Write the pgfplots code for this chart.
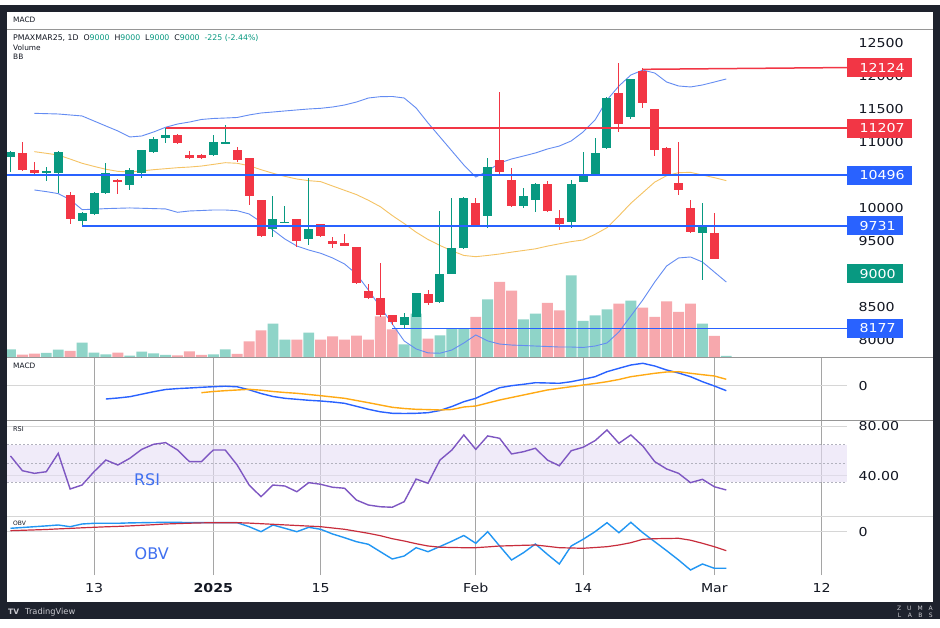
\documentclass[border=0pt]{standalone}
\usepackage{fontspec}
\setmainfont{DejaVu Sans}
\newfontfamily\scalefont{DejaVu Sans}[FakeStretch=1.15]
\usepackage{pgfplots}
\usepackage{pgfplotstable}
\pgfplotsset{compat=1.18}
\usepgfplotslibrary{fillbetween}

\definecolor{cgreen}{RGB}{8,153,129}
\definecolor{cred}{RGB}{242,54,69}
\definecolor{cblue}{RGB}{41,98,255}
\definecolor{vgreen}{RGB}{143,212,200}
\definecolor{vred}{RGB}{247,168,173}
\definecolor{bbline}{RGB}{100,140,242}
\definecolor{bbmid}{RGB}{245,195,100}
\definecolor{bbfill}{RGB}{226,237,252}
\definecolor{macdorange}{RGB}{255,170,20}
\definecolor{rsipurple}{RGB}{126,87,194}
\definecolor{rsiband}{RGB}{230,223,245}
\definecolor{obvblue}{RGB}{33,150,243}
\definecolor{obvred}{RGB}{200,45,60}
\definecolor{gridh}{RGB}{214,214,214}
\definecolor{gridv}{RGB}{165,165,165}
\definecolor{sepc}{RGB}{150,150,150}
\definecolor{framec}{RGB}{30,34,45}
\definecolor{txt}{RGB}{19,23,34}
\definecolor{labelblue}{RGB}{64,112,240}
\definecolor{dashc}{RGB}{178,178,190}
\definecolor{logoc}{RGB}{200,200,206}

% up (green) candles: index open high low close volume(px)
\pgfplotstableread{
i o h l c v
-7 10774 10860 10548 10851 7.7
-4 10524 10623 10407 10554 4
-3 10524 10860 10221 10851 7.4
-1 9801 9934 9740 9917 14.4
0 9902 10236 9888 10230 4.4
1 10221 10682 10211 10532 2.7
3 10347 10598 10271 10573 1.4
4 10524 10880 10447 10876 5.4
5 10846 11077 10827 11047 3.7
6 11053 11207 10977 11103 2
10 10800 11103 10789 10996 2.7
11 10980 11254 10975 10996 7.7
15 9676 10179 9564 9827 33.4
16 9773 10028 9767 9788 17.4
18 9525 10446 9438 9676 24.4
26 8227 8413 8177 8353 12.7
27 8353 8716 8344 8707 43.4
29 8570 9957 8565 8994 21.7
30 8999 10154 8993 9398 28.4
31 9388 10170 9381 10154 28.4
33 9880 10750 9690 10613 57.7
36 10029 10306 9993 10179 37.7
37 10119 10380 9932 10356 43.4
40 9782 10422 9690 10356 81.7
41 10397 10850 10387 10508 36
42 10513 11053 10507 10826 41.7
43 10902 11675 10890 11668 47.7
45 11371 11957 11341 11946 56.4
51 9615 10069 8909 9731 33.4
53 9000 9000 9000 9000 1
}\upc

% down (red) candles
\pgfplotstableread{
i o h l c v
-6 10827 10992 10563 10573 2.4
-5 10573 10699 10497 10524 3.4
-2 10195 10245 9756 9827 6
2 10422 10432 10206 10397 4.4
7 11103 11111 10970 10977 1.7
8 10800 10861 10739 10750 5.7
9 10800 10809 10739 10750 2
12 10876 10926 10699 10725 3
13 10750 10759 10043 10179 15.7
14 10119 10125 9563 9576 26.7
17 9827 9833 9414 9504 17.4
19 9756 9763 9563 9576 17.4
20 9499 9564 9388 9454 20.7
21 9473 9600 9421 9428 17.4
22 9403 9411 8848 8858 21.4
23 8747 8849 8626 8632 17.4
24 8632 9170 8353 8379 40.7
25 8379 8384 8227 8278 27.5
28 8696 8757 8535 8555 18.4
32 10069 10144 9713 9726 40
34 10725 11749 10508 10548 75
35 10422 10598 10014 10029 66.4
38 10356 10410 9933 9952 54
39 9842 9968 9665 9752 46.7
44 11743 12188 11154 11269 53.4
46 12071 12124 11507 11582 49.4
47 11496 11503 10785 10876 40
48 10911 10920 10483 10496 55.7
49 10382 10992 10195 10271 45
50 10003 10119 9622 9630 53.4
52 9625 9926 9220 9225 21
}\dnc

% indicators: BB upper/mid/lower, MACD, signal, RSI, OBV, OBV MA
\pgfplotstableread{
i up mid lo macd sig rsi obv obvma
-7 nan nan nan nan nan 55.9 3.4 1.0
-6 nan nan nan nan nan 44.0 4.2 1.4
-5 11431 10851 10271 nan nan 41.9 5.0 1.8
-4 11426 10826 10246 nan nan 43.2 5.8 2.2
-3 11421 10800 10216 nan nan 58.0 6.7 2.8
-2 11406 10739 10125 nan nan 29.3 5.0 3.3
-1 11391 10675 9974 nan nan 32.5 7.7 3.9
0 11315 10628 9979 nan nan 43.2 8.4 4.4
1 11239 10584 9989 -13.0 nan 52.6 8.4 4.9
2 11164 10553 9994 -12.0 nan 48.6 8.4 5.3
3 11073 10543 9999 -10.7 nan 54.0 8.8 5.8
4 11088 10560 9994 -8.2 nan 61.2 9.0 6.4
5 11149 10578 9989 -5.7 nan 65.3 9.2 7.0
6 11220 10593 9984 -3.5 nan 66.6 9.4 7.7
7 11269 10608 9933 -2.6 nan 60.7 9.4 8.1
8 11299 10618 9953 -2.0 nan 51.3 9.0 8.5
9 11338 10633 9960 -1.3 -6.7 51.3 9.0 8.8
10 11353 10658 9968 -0.7 -5.5 60.7 9.0 9.0
11 11360 10684 9968 -0.2 -4.7 60.7 9.0 9.0
12 11368 10675 9957 -0.8 -4.0 48.6 9.0 9.0
13 11406 10638 9908 -3.8 -3.3 32.5 5.0 8.6
14 11436 10578 9786 -7.5 -4.2 23.1 0.0 8.0
15 11451 10524 9665 -10.5 -5.5 32.5 6.7 7.4
16 11467 10477 9529 -12.3 -6.5 31.7 3.4 6.8
17 11482 10437 9423 -13.3 -7.3 27.1 0.0 6.2
18 11497 10412 9362 -14.3 -8.5 34.4 4.4 5.6
19 11507 10397 9313 -15.0 -9.7 33.1 2.4 5.0
20 11527 10331 9242 -16.0 -11.0 30.7 -2.3 3.7
21 11557 10266 9151 -17.3 -12.3 29.9 -6.0 2.4
22 11602 10201 8999 -20.3 -14.5 20.4 -10.0 0.4
23 11663 10115 8757 -23.3 -16.7 16.4 -12.6 -1.6
24 11683 10018 8500 -25.8 -19.0 15.0 -20.0 -4.0
25 11686 9884 8243 -27.3 -21.3 14.6 -27.3 -7.0
26 11663 9763 7986 -27.5 -22.5 19.1 -24.3 -9.3
27 11512 9632 7865 -27.3 -23.3 37.3 -16.0 -12.0
28 11285 9521 7805 -26.7 -23.6 33.9 -20.0 -14.3
29 11073 9431 7800 -24.5 -24.0 52.6 -14.8 -15.5
30 10861 9350 7849 -20.5 -23.5 60.7 -9.5 -15.8
31 10649 9280 7955 -15.7 -21.0 72.8 -3.8 -16.0
32 10467 9261 8076 -12.3 -20.0 61.2 -11.6 -16.0
33 10558 9280 7986 -6.7 -17.0 72.0 0.0 -15.2
34 10680 9302 7939 -1.7 -14.0 70.1 -14.3 -14.3
35 10740 9330 7924 0.3 -11.5 57.5 -28.3 -14.0
36 10785 9355 7917 1.7 -9.0 59.3 -21.0 -13.6
37 10831 9380 7909 3.3 -6.5 62.1 -12.3 -13.3
38 10891 9421 7902 3.0 -4.0 52.6 -22.6 -14.6
39 10936 9456 7894 2.7 -2.3 48.0 -32.3 -16.0
40 11013 9489 7894 4.3 -0.7 60.1 -14.3 -16.3
41 11149 9514 7887 6.7 1.0 62.9 -7.6 -16.6
42 11330 9600 7909 9.3 2.5 68.2 0.0 -15.8
43 11633 9700 7955 14.3 4.3 76.8 9.0 -15.0
44 11845 9880 8122 17.7 6.5 66.1 -1.0 -13.3
45 12011 10070 8364 21.0 9.3 72.8 9.4 -11.0
46 12086 10230 8606 22.7 11.0 63.9 -1.0 -7.6
47 12041 10390 8878 20.0 12.7 51.3 -10.0 -7.0
48 11905 10487 9121 16.0 14.0 45.4 -19.0 -6.8
49 11845 10533 9242 13.0 14.3 41.9 -28.3 -6.6
50 11830 10538 9257 9.3 12.7 34.4 -38.3 -8.5
51 11860 10497 9181 4.3 11.3 37.1 -32.3 -11.6
52 11905 10457 9029 0.0 10.0 31.1 -36.6 -15.0
53 11951 10412 8878 -4.7 6.7 28.5 -36.6 -19.0
}\indic

\newcommand\scl{\scalefont\fontsize{12.3pt}{14pt}\selectfont}
\newcommand\hdr{\fontsize{7.4pt}{8pt}\selectfont}

\tikzset{pbox/.style={anchor=west, inner xsep=0pt, inner ysep=0pt, minimum height=19pt,
    text=white, font=\scl}}

\pgfplotsset{
  pane/.style={scale only axis, width=840pt, xmin=-7.293, xmax=63.118,
    anchor=south west, scaled y ticks=false, scaled x ticks=false,
    axis line style={draw=none}, tick style={draw=none}, major tick length=0pt,
    xtick={0,10,19,32,41,52,61}, xticklabels={}, xmajorgrids, ymajorgrids,
    x grid style={draw=gridv, line width=0.8pt},
    y grid style={draw=gridh, line width=1pt},
    yticklabel pos=right,
    yticklabel style={anchor=west, xshift=11.5pt, inner sep=0pt, font=\scl, text=txt}},
  over/.style={scale only axis, width=840pt, xmin=-7.293, xmax=63.118,
    anchor=south west, hide axis},
  wick/.style={forget plot, draw=none, mark=none,
    error bars/.cd, y dir=both, y explicit, error mark=none,
    error bar style={draw=#1, line width=1pt}},
  body/.style={forget plot, draw=none, mark=none,
    error bars/.cd, y dir=both, y explicit, error mark=none,
    error bar style={draw=#1, line width=9pt}},
}

\begin{document}
\begin{tikzpicture}
% page and frame
\fill[white] (0pt,0pt) rectangle (940pt,627pt);
\fill[framec] (0pt,8pt) rectangle (940pt,622pt);
\fill[white] (7pt,25pt) rectangle (933pt,615pt);

% ---------- price pane: grid + BB fill ----------
\begin{axis}[pane, at={(7pt,270pt)}, height=328pt, ymin=7743, ymax=12707.4,
  ytick={8000,8500,9000,9500,10000,10500,11000,11500,12000,12500},
  yticklabels={8000,8500,9000,9500,10000,10500,11000,11500,12000,12500}]
\addplot[name path=U, draw=none] table[x=i,y=up]{\indic};
\addplot[name path=L, draw=none] table[x=i,y=lo]{\indic};
\addplot[fill=bbfill, fill opacity=0.55, draw=none] fill between[of=U and L];
\end{axis}

% ---------- volume ----------
\begin{axis}[over, at={(7pt,270pt)}, height=328pt, ymin=0, ymax=328,
  ybar, bar width=10.9pt]
\addplot[fill=vgreen, draw=none, bar shift=0pt] table[x=i,y=v]{\upc};
\addplot[fill=vred, draw=none, bar shift=0pt] table[x=i,y=v]{\dnc};
\end{axis}

% ---------- price overlay: BB lines, candles, levels ----------
\begin{axis}[over, at={(7pt,270pt)}, height=328pt, ymin=7743, ymax=12707.4,
  clip mode=individual]
\addplot[bbline, line width=0.9pt] table[x=i,y=up]{\indic};
\addplot[bbline, line width=0.9pt] table[x=i,y=lo]{\indic};
\addplot[bbmid, line width=0.9pt] table[x=i,y=mid]{\indic};
\addplot[wick=cgreen] table[x=i, y expr={(\thisrow{h}+\thisrow{l})/2},
  y error expr={(\thisrow{h}-\thisrow{l})/2}]{\upc};
\addplot[body=cgreen] table[x=i, y expr={(\thisrow{o}+\thisrow{c})/2},
  y error expr={abs(\thisrow{c}-\thisrow{o})/2}]{\upc};
\addplot[wick=cred] table[x=i, y expr={(\thisrow{h}+\thisrow{l})/2},
  y error expr={(\thisrow{h}-\thisrow{l})/2}]{\dnc};
\addplot[body=cred] table[x=i, y expr={(\thisrow{o}+\thisrow{c})/2},
  y error expr={abs(\thisrow{c}-\thisrow{o})/2}]{\dnc};
\addplot[cred, line width=1.5pt] coordinates {(46,12097) (63.118,12124)};
\addplot[cred, line width=1.5pt] coordinates {(6,11207) (63.118,11207)};
\addplot[cblue, line width=1.8pt] coordinates {(-7.293,10496) (63.118,10496)};
\addplot[cblue, line width=1.8pt] coordinates {(-1,9731) (63.118,9731)};
\addplot[cblue, line width=1.6pt] coordinates {(25,8177) (63.118,8177)};
\node[pbox, fill=cred] at (axis cs:63.118,12124) {\hspace*{12.5pt}12124\hspace*{7.5pt}};
\node[pbox, fill=cred] at (axis cs:63.118,11207) {\hspace*{12.5pt}11207\hspace*{7.5pt}};
\node[pbox, fill=cblue] at (axis cs:63.118,10496) {\hspace*{12.5pt}10496\hspace*{7.5pt}};
\node[pbox, fill=cblue] at (axis cs:63.118,9731) {\hspace*{12.5pt}9731\hspace*{7.5pt}};
\node[pbox, fill=cgreen] at (axis cs:63.118,9000) {\hspace*{12.5pt}9000\hspace*{7.5pt}};
\node[pbox, fill=cblue] at (axis cs:63.118,8177) {\hspace*{12.5pt}8177\hspace*{7.5pt}};
\end{axis}

% ---------- MACD ----------
\begin{axis}[pane, at={(7pt,207pt)}, height=63pt, ymin=-34, ymax=29,
  ytick={0}, yticklabels={0}]
\addplot[cblue, line width=1.4pt] table[x=i,y=macd]{\indic};
\addplot[macdorange, line width=1.4pt] table[x=i,y=sig]{\indic};
\end{axis}

% ---------- RSI ----------
\begin{axis}[pane, at={(7pt,111pt)}, height=96pt, ymin=7.56, ymax=84.83,
  ytick={40,80}, yticklabels={40.00,80.00}]
\addplot[draw=none, fill=rsiband, fill opacity=0.6]
  coordinates {(-7.293,35) (63.118,35) (63.118,65) (-7.293,65)} -- cycle;
\addplot[draw=dashc, line width=0.8pt, dash pattern=on 2pt off 2pt]
  coordinates {(-7.293,65) (63.118,65)};
\addplot[draw=dashc, line width=0.8pt, dash pattern=on 2pt off 2pt]
  coordinates {(-7.293,50) (63.118,50)};
\addplot[draw=dashc, line width=0.8pt, dash pattern=on 2pt off 2pt]
  coordinates {(-7.293,35) (63.118,35)};
\addplot[rsipurple, line width=1.4pt] table[x=i,y=rsi]{\indic};
\end{axis}

% ---------- OBV ----------
\begin{axis}[pane, at={(7pt,52pt)}, height=59pt, ymin=-43.3, ymax=15.7,
  ytick={0}, yticklabels={0},
  xticklabels={13,{\textbf{2025}},15,Feb,14,Mar,12},
  xticklabel style={anchor=base, yshift=-17.7pt, inner sep=0pt, font=\scl, text=txt}]
\addplot[obvblue, line width=1.4pt] table[x=i,y=obv]{\indic};
\addplot[obvred, line width=1.2pt] table[x=i,y=obvma]{\indic};
\end{axis}

% pane separators
\draw[sepc, line width=0.9pt] (7pt,598pt) -- (933pt,598pt);
\draw[sepc, line width=0.9pt] (7pt,270pt) -- (933pt,270pt);
\draw[sepc, line width=0.9pt] (7pt,207pt) -- (933pt,207pt);
\draw[gridh, line width=0.9pt] (7pt,111pt) -- (933pt,111pt);

% header texts
\node[anchor=west, inner sep=0pt, font=\hdr, text=txt] at (13pt,607pt) {MACD};
\node[anchor=west, inner sep=0pt, font=\fontsize{7.8pt}{9pt}\selectfont, text=txt] at (13pt,589pt)
  {PMAXMAR25, 1D\ \ O\textcolor{cgreen}{9000}\ \ H\textcolor{cgreen}{9000}\ \ L\textcolor{cgreen}{9000}\ \ C\textcolor{cgreen}{9000}\ \ \textcolor{cgreen}{-225 (-2.44\%)}};
\node[anchor=west, inner sep=0pt, font=\hdr, text=txt] at (13pt,579.7pt) {Volume};
\node[anchor=west, inner sep=0pt, font=\hdr, text=txt] at (13pt,570.3pt) {BB};
\node[anchor=west, inner sep=0pt, font=\hdr, text=txt] at (13pt,261.3pt) {MACD};
\node[anchor=west, inner sep=0pt, font=\fontsize{6.5pt}{7pt}\selectfont, text=txt] at (13pt,198.3pt) {RSI};
\node[anchor=west, inner sep=0pt, font=\fontsize{6pt}{7pt}\selectfont, text=txt] at (13pt,103.3pt) {OBV};

% big pane captions
\node[inner sep=0pt, font=\fontsize{16pt}{18pt}\selectfont, text=labelblue] at (147pt,147.8pt) {RSI};
\node[inner sep=0pt, font=\fontsize{16pt}{18pt}\selectfont, text=labelblue] at (151.7pt,73.7pt) {OBV};

% bottom band
\node[anchor=west, inner sep=0pt, font=\bfseries\fontsize{7.5pt}{8pt}\selectfont, text=logoc] at (8pt,15pt) {TV};
\node[anchor=west, inner sep=0pt, font=\fontsize{8.3pt}{9pt}\selectfont, text=logoc] at (25pt,15pt) {TradingView};
\node[anchor=east, inner sep=0pt, font=\fontsize{6pt}{7pt}\selectfont, text=logoc] at (933pt,18.5pt) {Z\hspace{6pt}U\hspace{6pt}M\hspace{6pt}A};
\node[anchor=east, inner sep=0pt, font=\fontsize{6pt}{7pt}\selectfont, text=logoc] at (933pt,11.5pt) {L\hspace{6.5pt}A\hspace{6.5pt}B\hspace{6.5pt}S};
\end{tikzpicture}
\end{document}
